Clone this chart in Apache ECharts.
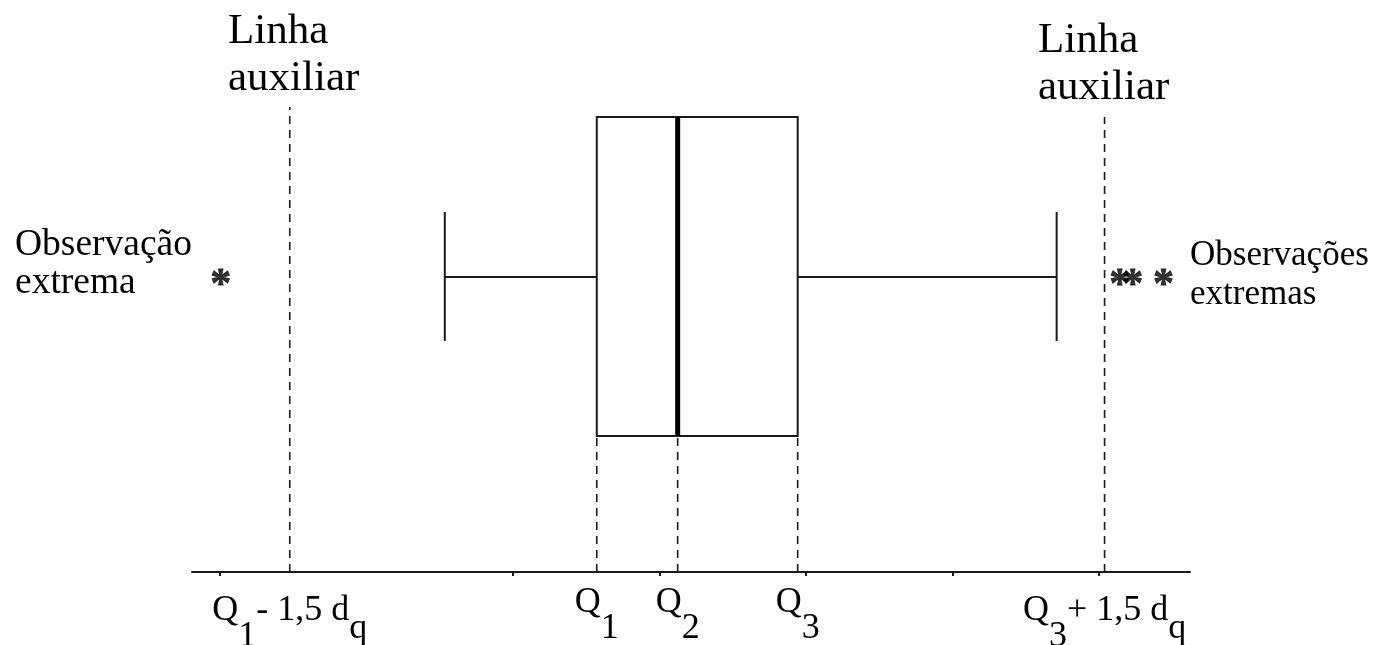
<!DOCTYPE html>
<html><head><meta charset="utf-8">
<script src="https://cdn.jsdelivr.net/npm/echarts@6/dist/echarts.min.js"></script>
<style>html,body{margin:0;padding:0;background:#fff}#c{width:1385px;height:645px}</style>
</head><body><div id="c"></div>
<script>
// ---- data (schematic box plot) ----
const whiskerLow = 1.535;
const q1 = 2.572;
const q2 = 3.124;
const q3 = 3.943;
const whiskerHigh = 5.71;
const auxLines = [0.477, 6.037];
const outliers = [0.007, 6.14, 6.23, 6.44];
const minorTicks = [0, 2, 3, 4, 5, 6];
const tickPositions = [0.477, 2.572, 3.124, 3.943, 6.037];
// each label: [main, subscript, main, subscript]
const tickLabels = [
  ['Q', '1', '- 1,5 d', 'q'],
  ['Q', '1'],
  ['Q', '2'],
  ['Q', '3'],
  ['Q', '3', '+ 1,5 d', 'q']
];
const auxTitle = 'Linha\nauxiliar';
const leftNote = 'Observação\nextrema';
const rightNote = 'Observações\nextremas';

// ---- layout constants (y in axis units 0..100) ----
const BOX_TOP = 91, BOX_BOTTOM = 27.2, MID_Y = 59, CAP_TOP = 72, CAP_BOTTOM = 46.2;
const AUX_TOPS = [93, 91];
const STAR_Y = 59;
const INK = '#1a1a1a';
const SERIF = '"Liberation Serif", "Times New Roman", serif';

const chart = echarts.init(document.getElementById('c'), null, {renderer: 'canvas'});

function fmtLabel(value) {
  let idx = 0, best = Infinity;
  tickPositions.forEach((p, i) => { const d = Math.abs(p - value); if (d < best) { best = d; idx = i; } });
  const parts = tickLabels[idx];
  const outer = parts.length > 2;
  let s = '';
  parts.forEach((t, i) => {
    let style;
    if (i % 2 === 0) style = outer ? 'mo' : 'm';
    else if (t === 'q') style = outer ? 'qo' : 'q';
    else style = outer ? 'so' : 's';
    s += '{' + style + '|' + t + '}';
  });
  return s;
}

const base = {fontFamily: SERIF, fontSize: 36, color: '#000', lineHeight: 40, verticalAlign: 'top'};

const option = {
  animation: false,
  backgroundColor: '#fff',
  grid: {left: 192, right: 195, top: 72, bottom: 73, outerBoundsMode: 'none', containLabel: false},
  xAxis: {
    type: 'value', min: -0.19, max: 6.62,
    splitLine: {show: false},
    axisLine: {show: true, onZero: false, lineStyle: {color: INK, width: 2}},
    axisTick: {show: true, customValues: minorTicks, length: 4, lineStyle: {color: INK, width: 2}},
    axisLabel: {
      show: true, customValues: tickPositions, margin: 13,
      formatter: fmtLabel,
      rich: {
        m: Object.assign({}, base),
        s: Object.assign({}, base, {padding: [26, 0, 0, 0]}),
        q: Object.assign({}, base, {padding: [18, 0, 0, 0]}),
        mo: Object.assign({}, base, {padding: [8, 0, 0, 0]}),
        so: Object.assign({}, base, {padding: [34, 0, 0, 0]}),
        qo: Object.assign({}, base, {padding: [26, 0, 0, 0]})
      }
    }
  },
  yAxis: {type: 'value', min: 0, max: 100, show: false, splitLine: {show: false}},
  series: [
    {
      type: 'custom', name: 'guides',
      data: auxLines.map((v, i) => [v, AUX_TOPS[i]]).concat([q1, q2, q3].map(v => [v, BOX_BOTTOM])),
      encode: {x: 0, y: 1},
      renderItem: function (params, api) {
        const p0 = api.coord([api.value(0), 0]);
        const p1 = api.coord([api.value(0), api.value(1)]);
        return {type: 'line', shape: {x1: p0[0], y1: p0[1], x2: p1[0], y2: p1[1]},
          style: {stroke: INK, lineWidth: 1.6, lineDash: [8, 6]}};
      },
      silent: true, z: 1
    },
    {
      type: 'custom', name: 'box',
      data: [[whiskerLow, q1, q2, q3, whiskerHigh]],
      encode: {x: [0, 1, 2, 3, 4]},
      renderItem: function (params, api) {
        const lo = api.value(0), a = api.value(1), m = api.value(2), b = api.value(3), hi = api.value(4);
        const tl = api.coord([a, BOX_TOP]), br = api.coord([b, BOX_BOTTOM]);
        const c = (x, y) => api.coord([x, y]);
        const ln = (p, q, w) => ({type: 'line', shape: {x1: p[0], y1: p[1], x2: q[0], y2: q[1]}, style: {stroke: INK, lineWidth: w || 2}});
        return {type: 'group', children: [
          {type: 'rect', shape: {x: tl[0], y: tl[1], width: br[0] - tl[0], height: br[1] - tl[1]}, style: {stroke: INK, lineWidth: 2, fill: '#fff'}},
          ln(c(lo, MID_Y), c(a, MID_Y)),
          ln(c(b, MID_Y), c(hi, MID_Y)),
          ln(c(lo, CAP_TOP), c(lo, CAP_BOTTOM)),
          ln(c(hi, CAP_TOP), c(hi, CAP_BOTTOM)),
          {type: 'line', shape: {x1: c(m, BOX_TOP)[0], y1: c(m, BOX_TOP)[1], x2: c(m, BOX_BOTTOM)[0], y2: c(m, BOX_BOTTOM)[1]}, style: {stroke: '#000', lineWidth: 5}}
        ]};
      },
      silent: true, z: 2
    },
    {
      type: 'scatter', name: 'outliers',
      data: outliers.map(v => [v, STAR_Y]),
      symbolSize: 2,
      itemStyle: {color: 'rgba(0,0,0,0)'},
      label: {show: true, position: 'inside', formatter: '*', offset: [0, 9],
        fontFamily: SERIF, fontWeight: 'bold', fontSize: 42, color: '#000',
        textBorderColor: '#000', textBorderWidth: 0.8},
      silent: true, z: 3
    }
  ],
  graphic: [
    {type: 'text', left: 228, top: 8, style: {text: auxTitle, font: '43px ' + SERIF, lineHeight: 47, fill: '#000'}},
    {type: 'text', left: 1038, top: 17, style: {text: auxTitle, font: '43px ' + SERIF, lineHeight: 47, fill: '#000'}},
    {type: 'text', left: 15, top: 226, style: {text: leftNote, font: '37.5px ' + SERIF, lineHeight: 38, fill: '#000'}},
    {type: 'text', left: 1190, top: 236, style: {text: rightNote, font: '35px ' + SERIF, lineHeight: 39, fill: '#000'}}
  ]
};
chart.setOption(option);
</script>
</body></html>
